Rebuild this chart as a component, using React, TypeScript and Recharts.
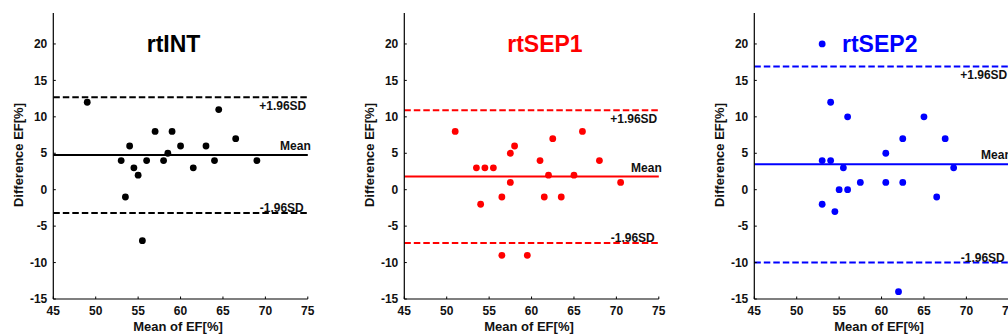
import React from 'react';
import { ScatterChart, Scatter, XAxis, YAxis, ReferenceLine } from 'recharts';

const xTicks = [45, 50, 55, 60, 65, 70, 75];
const yTicks = [-15, -10, -5, 0, 5, 10, 15, 20];

// rtINT
const intMean = [49, 53, 53.5, 54, 54.5, 55, 55.5, 56, 57, 58, 58.5, 59, 60, 61.5, 63, 64, 64.5, 66.5, 69];
const intDiff = [12, 4, -1, 6, 3, 2, -7, 4, 8, 4, 5, 8, 6, 3, 6, 4, 11, 7, 4];
const intLimits = [12.7, 4.75, -3.2];

// rtSEP1
const sep1Mean = [51, 53.5, 54, 54.5, 55.5, 56.5, 56.5, 57.5, 57.5, 58, 59.5, 61, 61.5, 62, 62.5, 63.5, 65, 66, 68, 70.5];
const sep1Diff = [8, 3, -2, 3, 3, -1, -9, 5, 1, 6, -9, 4, -1, 2, 7, -1, 2, 8, 4, 1];
const sep1Limits = [10.9, 1.8, -7.3];

// rtSEP2
const sep2Mean = [53, 54, 56, 65, 62.5, 67.5, 60.5, 53, 54, 55.5, 68.5, 57.5, 60.5, 62.5, 55, 56, 66.5, 53, 54.5, 62];
const sep2Diff = [20, 12, 10, 10, 7, 7, 5, 4, 4, 3, 3, 1, 1, 1, 0, 0, -1, -2, -3, -14];
const sep2Limits = [16.9, 3.5, -10];

const titles = ['rtINT', 'rtSEP1', 'rtSEP2'];
const FONT = '"Liberation Sans", Arial, Helvetica, sans-serif';

const W = 350;
const H = 336;
const PLOT_LEFT = 53.3;
const PLOT_W = 254.5;
const PLOT_TOP = 13;
const PLOT_BOTTOM = 299;

const YTick = (props: any) => {
  const { x, y, payload } = props;
  return (
    <g>
      <line x1={x} x2={x + 2.5} y1={y} y2={y} stroke="#000" strokeWidth={1} />
      <text x={x - 6} y={y + 4.2} textAnchor="end" fontFamily={FONT} fontWeight="bold" fontSize={12} fill="#111">
        {payload.value}
      </text>
    </g>
  );
};

const XTick = (props: any) => {
  const { x, y, payload } = props;
  return (
    <g>
      <line x1={x} x2={x} y1={y} y2={y - 2.5} stroke="#000" strokeWidth={1} />
      <text x={x} y={y + 16} textAnchor="middle" fontFamily={FONT} fontWeight="bold" fontSize={12} fill="#111">
        {payload.value}
      </text>
    </g>
  );
};

const lineLabel = (text: string, dxRight: number, dy: number) => (p: any) => {
  const vb = p.viewBox || {};
  const xEnd = (vb.x ?? 0) + (vb.width ?? 0);
  return (
    <text x={xEnd + dxRight} y={(vb.y ?? 0) + dy} textAnchor="end" fontFamily={FONT} fontWeight="bold" fontSize={12} fill="#111">
      {text}
    </text>
  );
};

type PanelProps = {
  xs: number[];
  ys: number[];
  limits: number[];
  color: string;
  title: string;
  titleX: number;
  left: number;
};

const Panel = ({ xs, ys, limits, color, title, titleX, left }: PanelProps) => {
  const data = xs.map((x, i) => ({ x, y: ys[i] }));
  const [upper, mean, lower] = limits;
  return (
    <div style={{ position: 'absolute', left, top: 0, width: W, height: H }}>
      <ScatterChart width={W} height={H} margin={{ top: PLOT_TOP, right: W - PLOT_LEFT - PLOT_W, bottom: 0, left: 0 }}>
        <XAxis
          type="number"
          dataKey="x"
          domain={[45, 75]}
          ticks={xTicks}
          height={H - PLOT_BOTTOM}
          tickSize={0}
          tickMargin={0}
          tickLine={false}
          axisLine={{ stroke: '#000', strokeWidth: 1.2 }}
          tick={<XTick />}
          interval={0}
          allowDataOverflow
        />
        <YAxis
          type="number"
          dataKey="y"
          domain={[-15, 24.25]}
          ticks={yTicks}
          width={PLOT_LEFT}
          tickSize={0}
          tickMargin={0}
          tickLine={false}
          axisLine={{ stroke: '#000', strokeWidth: 1.2 }}
          tick={<YTick />}
          interval={0}
          allowDataOverflow
        />
        <ReferenceLine y={upper} stroke={color} strokeWidth={2} strokeDasharray="6.5 3" label={lineLabel('+1.96SD', -1.5, 12.5)} />
        <ReferenceLine y={mean} stroke={color} strokeWidth={2} label={lineLabel('Mean', 3, -5)} />
        <ReferenceLine y={lower} stroke={color} strokeWidth={2} strokeDasharray="6.5 3" label={lineLabel('-1.96SD', -4, -1)} />
        <Scatter
          data={data}
          isAnimationActive={false}
          fill={color}
          shape={(p: any) => <circle cx={p.cx} cy={p.cy} r={3.4} fill={color} />}
        />
      </ScatterChart>
      <svg width={W} height={H} style={{ position: 'absolute', left: 0, top: 0, pointerEvents: 'none' }}>
        <text x={titleX} y={51.7} fontFamily={FONT} fontWeight="bold" fontSize={23} fill={color}>
          {title}
        </text>
        <text
          x={18}
          y={155}
          transform="rotate(-90 18 155)"
          textAnchor="middle"
          dominantBaseline="central"
          fontFamily={FONT}
          fontWeight="bold"
          fontSize={13}
          fill="#111"
        >
          Difference EF[%]
        </text>
        <text x={178} y={331} textAnchor="middle" fontFamily={FONT} fontWeight="bold" fontSize={13} fill="#111">
          Mean of EF[%]
        </text>
      </svg>
    </div>
  );
};

export default function App() {
  return (
    <div style={{ position: 'absolute', left: 0, top: 0, width: 1008, height: 336, overflow: 'hidden', background: '#fff' }}>
      <Panel xs={intMean} ys={intDiff} limits={intLimits} color="#000000" title={titles[0]} titleX={146.7} left={0} />
      <Panel xs={sep1Mean} ys={sep1Diff} limits={sep1Limits} color="#ff0000" title={titles[1]} titleX={156.2} left={350.5} />
      <Panel xs={sep2Mean} ys={sep2Diff} limits={sep2Limits} color="#0000ff" title={titles[2]} titleX={141} left={701} />
    </div>
  );
}
